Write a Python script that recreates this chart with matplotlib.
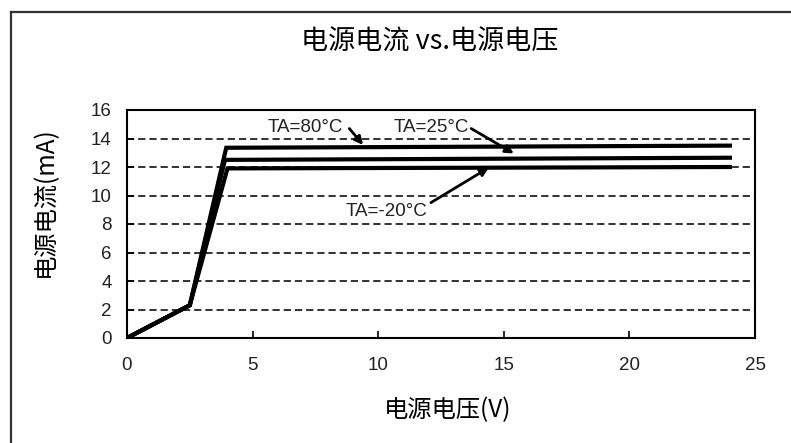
import matplotlib
matplotlib.use('Agg')
import matplotlib.pyplot as plt
from matplotlib.lines import Line2D

plt.rcParams['font.family'] = ['Noto Sans CJK SC', 'DejaVu Sans']

# 数据：三条温度曲线 (电源电压 V, 电源电流 mA)
v_80 = [0, 2.5, 3.95, 24]
i_80 = [0, 2.3, 13.35, 13.5]
v_25 = [0, 2.5, 3.9, 24]
i_25 = [0, 2.3, 12.5, 12.65]
v_m20 = [0, 2.5, 4.0, 24]
i_m20 = [0, 2.3, 11.9, 12.0]

x_ticks = [0, 5, 10, 15, 20, 25]
y_ticks = [0, 2, 4, 6, 8, 10, 12, 14, 16]

labels = ['TA=80°C', 'TA=25°C', 'TA=-20°C']
text_pos = [(5.6, 14.8), (10.6, 14.8), (8.7, 8.9)]
arrow_from = [(8.85, 14.7), (13.7, 14.7), (12.1, 9.5)]
arrow_to = [(9.4, 13.55), (15.4, 12.95), (14.4, 11.95)]

fig = plt.figure(figsize=(7.91, 4.43), dpi=100)
ax = fig.add_axes([127 / 791, 1 - 338 / 443, 628 / 791, 228 / 443])

for v, i in [(v_80, i_80), (v_25, i_25), (v_m20, i_m20)]:
    ax.plot(v, i, color='black', linewidth=3, solid_joinstyle='miter')

ax.set_xlim(0, 25)
ax.set_ylim(0, 16)
ax.set_xticks(x_ticks)
ax.set_yticks(y_ticks)
ax.tick_params(direction='in', length=5, width=1.2, labelsize=13.5)
ax.tick_params(axis='x', pad=14)
ax.tick_params(axis='y', pad=11)
for lab in ax.get_xticklabels() + ax.get_yticklabels():
    lab.set_family('Liberation Sans')
    lab.set_color('#222222')

for y in y_ticks[1:-1]:
    ax.axhline(y, color='#222222', linewidth=1.3, linestyle=(0, (4, 2.2)), zorder=0)

for s in ax.spines.values():
    s.set_linewidth(1.5)

for lab, tp, af, at in zip(labels, text_pos, arrow_from, arrow_to):
    ax.text(tp[0], tp[1], lab, fontsize=13.5, family='Liberation Sans',
            ha='left', va='center', color='#222222')
    ax.annotate('', xy=at, xytext=af,
                arrowprops=dict(arrowstyle='-|>', color='black', lw=2,
                                mutation_scale=12, shrinkA=0, shrinkB=0))

fig.text(430 / 791, 1 - 42 / 443, '电源电流 vs.电源电压', fontsize=19.5,
         ha='center', va='center', family=['Noto Sans CJK SC', 'DejaVu Serif'])
fig.text(448 / 791, 1 - 410 / 443, '电源电压(V)', fontsize=17.5,
         ha='center', va='center')
fig.text(45 / 791, 1 - 202 / 443, '电源电流(mA)', fontsize=17.5,
         ha='center', va='center', rotation=90)

# 外框
fig.add_artist(Line2D([11 / 791, 11 / 791], [0, 1 - 12 / 443],
                      color='#333333', linewidth=1.6))
fig.add_artist(Line2D([11 / 791, 1], [1 - 12 / 443, 1 - 12 / 443],
                      color='#333333', linewidth=1.6))

fig.savefig('out.png', dpi=100)
